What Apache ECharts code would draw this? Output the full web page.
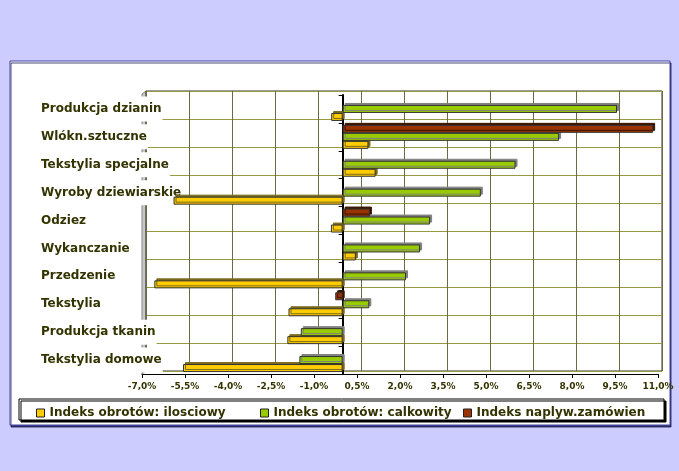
<!DOCTYPE html>
<html>
<head>
<meta charset="utf-8">
<script src="https://cdn.jsdelivr.net/npm/echarts@6/dist/echarts.min.js"></script>
<style>
  html, body { margin: 0; padding: 0; background: #ccccff; }
  #box1 { width: 679px; height: 471px; }
</style>
</head>
<body>
<div id="box1"></div>
<script>
// dane
var categories = ['Produkcja dzianin', 'Wlókn.sztuczne', 'Tekstylia specjalne', 'Wyroby dziewiarskie', 'Odziez',
                  'Wykanczanie', 'Przedzenie', 'Tekstylia', 'Produkcja tkanin', 'Tekstylia domowe'];
var ilosciowy = [-0.40, 0.90, 1.15, -5.90, -0.41, 0.46, -6.57, -1.89, -1.93, -5.57];
var calkowity = [9.57, 7.55, 6.03, 4.82, 3.05, 2.70, 2.21, 0.93, -1.46, -1.51];
var zamowien = [null, 10.83, null, null, 0.95, null, null, -0.26, null, null];
var seriesNames = ['Indeks obrotów: ilosciowy', 'Indeks obrotów: calkowity', 'Indeks naplyw.zamówien'];
var xMin = -7, xMax = 11, xStep = 1.5;

var txt = '#333300';
var font = 'DejaVu Sans';

function pct(v) {
  return v.toFixed(1).replace('.', ',') + '%';
}

function legendItem(name, left) {
  return {
    data: [name],
    left: left,
    top: 402,
    icon: 'rect',
    itemWidth: 8,
    itemHeight: 8,
    itemGap: 4,
    itemStyle: { borderColor: '#222', borderWidth: 1, shadowBlur: 0, shadowOffsetX: 0, shadowOffsetY: 0, shadowColor: 'transparent' },
    textStyle: { color: txt, fontFamily: font, fontWeight: 'bold', fontSize: 12 }
  };
}

function bar(name, data, color, side, z) {
  return {
    name: name,
    type: 'bar',
    xAxisIndex: 0,
    yAxisIndex: 0,
    barWidth: 8,
    barGap: '0%',
    z: z,
    itemStyle: {
      color: color,
      borderColor: '#333',
      borderWidth: 1,
      shadowColor: side,
      shadowBlur: 0,
      shadowOffsetX: 2,
      shadowOffsetY: -2
    },
    data: data
  };
}

var myChart1 = echarts.init(document.getElementById('box1'));
var option = {
  backgroundColor: '#ccccff',
  animation: false,
  graphic: [
    { type: 'rect', z: -10, shape: { x: 10, y: 61, width: 660, height: 364 },
      style: { fill: '#fff', stroke: '#4444aa', lineWidth: 1, shadowColor: 'rgba(0,0,60,0.7)', shadowOffsetX: 1, shadowOffsetY: 2 } },
    { type: 'polygon', z: -5, shape: { points: [[142, 94], [146, 91], [146, 371], [142, 374]] },
      style: { fill: '#c8c8c8', stroke: '#888', lineWidth: 1 } },
    { type: 'rect', z: 1, shape: { x: 19, y: 399, width: 645, height: 21 },
      style: { fill: '#fff', stroke: '#000', lineWidth: 1, shadowColor: '#000', shadowOffsetX: 2, shadowOffsetY: 2 } }
  ],
  legend: [
    legendItem(seriesNames[0], 31),
    legendItem(seriesNames[1], 255),
    legendItem(seriesNames[2], 458)
  ],
  grid: [
    { left: 142, right: 21, top: 95, bottom: 97 },
    { left: 146, right: 17, top: 91, bottom: 100, show: true, borderColor: '#333', borderWidth: 1, z: -1 }
  ],
  xAxis: [
    {
      type: 'value', gridIndex: 0, min: xMin, max: xMax, interval: xStep,
      axisLine: { show: true, onZero: false, lineStyle: { color: '#000', width: 1 } },
      axisTick: { show: true, length: 4, lineStyle: { color: '#000' } },
      splitLine: { show: false },
      axisLabel: { margin: 8, color: txt, fontFamily: font, fontWeight: 'bold', fontSize: 9, formatter: pct }
    },
    {
      type: 'value', gridIndex: 1, min: xMin, max: xMax, interval: xStep,
      axisLine: { show: false }, axisTick: { show: false }, axisLabel: { show: false },
      splitLine: { show: true, lineStyle: { color: '#6b6b40', width: 1 } }
    }
  ],
  yAxis: [
    {
      type: 'category', gridIndex: 0, inverse: true, data: categories,
      axisLine: { show: false, onZero: false },
      axisTick: { show: false },
      axisLabel: {
        align: 'left', margin: 102, color: txt, fontFamily: font, fontWeight: 'bold', fontSize: 12,
        backgroundColor: '#fff', padding: [12, 1, 1, 1]
      }
    },
    {
      type: 'category', gridIndex: 0, inverse: true, data: categories, position: 'right',
      axisLine: { show: true, onZero: true, lineStyle: { color: '#000', width: 2 } },
      axisTick: { show: true, inside: true, length: 4, lineStyle: { color: '#000' } },
      axisLabel: { show: false }
    },
    {
      type: 'category', gridIndex: 1, inverse: true, data: categories,
      axisLine: { show: false }, axisTick: { show: false }, axisLabel: { show: false },
      splitLine: { show: true, lineStyle: { color: '#999944', width: 1 } }
    }
  ],
  series: [
    bar(seriesNames[2], zamowien, '#993300', '#3a1400', 5),
    bar(seriesNames[1], calkowity, '#99cc00', '#808080', 4),
    bar(seriesNames[0], ilosciowy, '#ffcc00', '#7a6a20', 3)
  ]
};
myChart1.setOption(option);
</script>
</body>
</html>
